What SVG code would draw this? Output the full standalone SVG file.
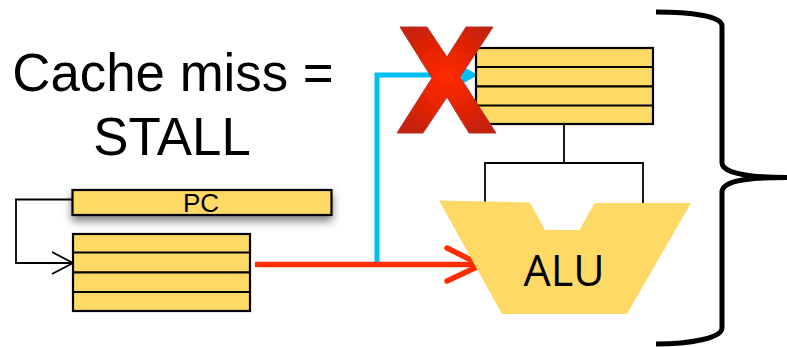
<svg xmlns="http://www.w3.org/2000/svg" width="787" height="347" viewBox="0 0 787 347">
  <style>
    .reg { fill: #ffd966; stroke: #000; stroke-width: 2.2; }
    .div { stroke: #000; stroke-width: 2.2; fill: none; }
    .wire { stroke: #000; stroke-width: 1.8; fill: none; }
    .brace { stroke: #000; stroke-width: 5; fill: none; }
    .sans { font-family: "Liberation Sans", Arial, sans-serif; fill: #000; text-anchor: middle; }
  </style>
  <defs>
    <radialGradient id="xfill" gradientUnits="userSpaceOnUse" cx="447" cy="78" r="62">
      <stop offset="0" stop-color="#ff2a00"/>
      <stop offset="0.55" stop-color="#e32400"/>
      <stop offset="1" stop-color="#c42010"/>
    </radialGradient>
    <filter id="shadow" x="-5%" y="-30%" width="110%" height="220%">
      <feDropShadow dx="0" dy="5" stdDeviation="4.500" flood-color="#000" flood-opacity="0.5"/>
    </filter>
    <filter id="soft" x="-5%" y="-5%" width="110%" height="110%">
      <feGaussianBlur stdDeviation="0.5"/>
    </filter>
  </defs>

  <g id="connectors">
    <path class="wire" d="M72 199.5H16V263H72"/>
    <path class="wire" d="M52 252L73 263L52 274"/>
    <path class="wire" d="M564 124V163M485 202V163H643V203"/>
    <path d="M377 265V75H470" fill="none" stroke="#00bff3" stroke-width="5"/>
    <path d="M462 66L478 75L462 84Z" fill="#00bff3"/>
    <path d="M255 264.5H480" fill="none" stroke="#ff2d00" stroke-width="5.500"/>
    <path d="M447 248L481 265L447 281" fill="none" stroke="#ff2d00" stroke-width="5.500" stroke-linecap="round" stroke-linejoin="round"/>
  </g>

  <g id="register-top">
    <rect class="reg" x="476" y="48" width="177" height="76"/>
    <path class="div" d="M476 67H653M476 86.3H653M476 105.5H653"/>
  </g>

  <g id="register-bottom">
    <rect class="reg" x="73" y="234" width="177" height="77"/>
    <path class="div" d="M73 252.5H250M73 272.3H250M73 292H250"/>
  </g>

  <g id="pc">
    <rect class="reg" x="72.5" y="190" width="259" height="25" filter="url(#shadow)"/>
    <text class="sans" x="201" y="211.5" font-size="26">PC</text>
  </g>

  <g id="alu">
    <polygon points="439,200.5 530,202.5 545,230 579.5,230 594.5,203 691,203 627,314 502,314" fill="#ffd966"/>
    <text x="564" y="286" font-size="43" text-anchor="middle" font-family="'Open Sans', sans-serif" fill="#000">ALU</text>
  </g>

  <g id="x-mark">
    <polygon points="400,27 427,27 447,57 466,27 493,27 460,77 496,133 469,133 447,97 423,133 397,133 432,78" fill="url(#xfill)" stroke="#b5342a" stroke-width="1" filter="url(#soft)"/>
  </g>

  <g id="brace">
    <path class="brace" d="M656 12C690 12 722 16 722 26V163C722 172 745 177.500 787 177.500"/>
    <path class="brace" d="M787 177.500C745 177.500 722 181 722 192V328C722 338 690 344 656 344"/>
  </g>

  <g id="caption">
    <text class="sans" x="173" y="91" font-size="52.800">Cache miss =</text>
    <text class="sans" x="172" y="155" font-size="52.800">STALL</text>
  </g>
</svg>
